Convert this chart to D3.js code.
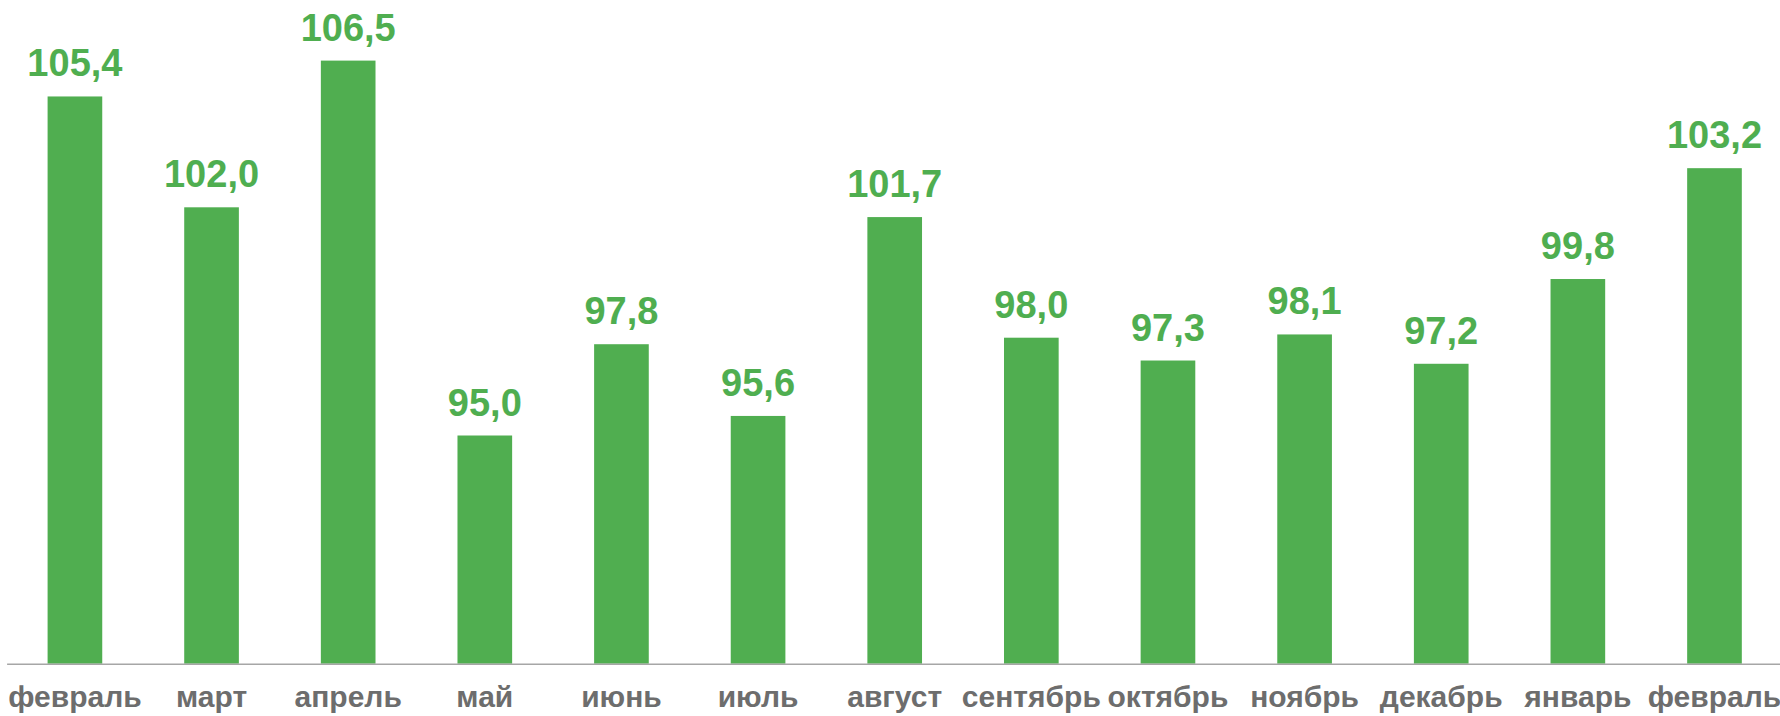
<!DOCTYPE html>
<html>
<head>
<meta charset="utf-8">
<script src="https://cdn.jsdelivr.net/npm/d3@7/dist/d3.min.js"></script>
<style>
  html, body { margin: 0; padding: 0; background: #ffffff; }
  svg { display: block; }
  text { font-family: "Liberation Sans", Arial, sans-serif; font-weight: bold; }
</style>
</head>
<body>
<svg id="chart" width="1780" height="716"></svg>
<script>
const months = ["февраль", "март", "апрель", "май", "июнь", "июль", "август", "сентябрь", "октябрь", "ноябрь", "декабрь", "январь", "февраль"];
const values = [105.4, 102.0, 106.5, 95.0, 97.8, 95.6, 101.7, 98.0, 97.3, 98.1, 97.2, 99.8, 103.2];
const labels = ["105,4", "102,0", "106,5", "95,0", "97,8", "95,6", "101,7", "98,0", "97,3", "98,1", "97,2", "99,8", "103,2"];

const svg = d3.select("#chart");
const baseY = 663.7;

const x = d3.scaleBand()
  .domain(d3.range(months.length))
  .range([6.6, 1782.8])
  .paddingInner(0.6)
  .paddingOuter(0.3);

const y = d3.scaleLinear()
  .domain([88, 108])
  .range([baseY, 11.7]);

const barColor = "#50ae50";

svg.append("g").selectAll("rect")
  .data(values)
  .join("rect")
  .attr("x", (d, i) => x(i))
  .attr("width", x.bandwidth())
  .attr("y", d => y(d))
  .attr("height", d => y(88) - y(d))
  .attr("fill", barColor);

svg.append("g").selectAll("text")
  .data(values)
  .join("text")
  .attr("x", (d, i) => x(i) + x.bandwidth() / 2)
  .attr("y", d => y(d) - 20)
  .attr("text-anchor", "middle")
  .attr("font-size", 38)
  .attr("fill", "#4fae50")
  .text((d, i) => labels[i]);

const axis = svg.append("g")
  .attr("transform", `translate(0,${baseY})`)
  .call(d3.axisBottom(x).tickSize(0).tickSizeOuter(0).tickFormat(i => months[i]));

axis.select(".domain").attr("stroke", "#a6a6a6").attr("stroke-width", 1.5);
axis.selectAll("text")
  .attr("y", 43)
  .attr("dy", 0)
  .attr("font-size", 30)
  .attr("font-family", "'Liberation Sans', Arial, sans-serif")
  .attr("font-weight", "bold")
  .attr("fill", "#6d6d6d");
</script>
</body>
</html>
